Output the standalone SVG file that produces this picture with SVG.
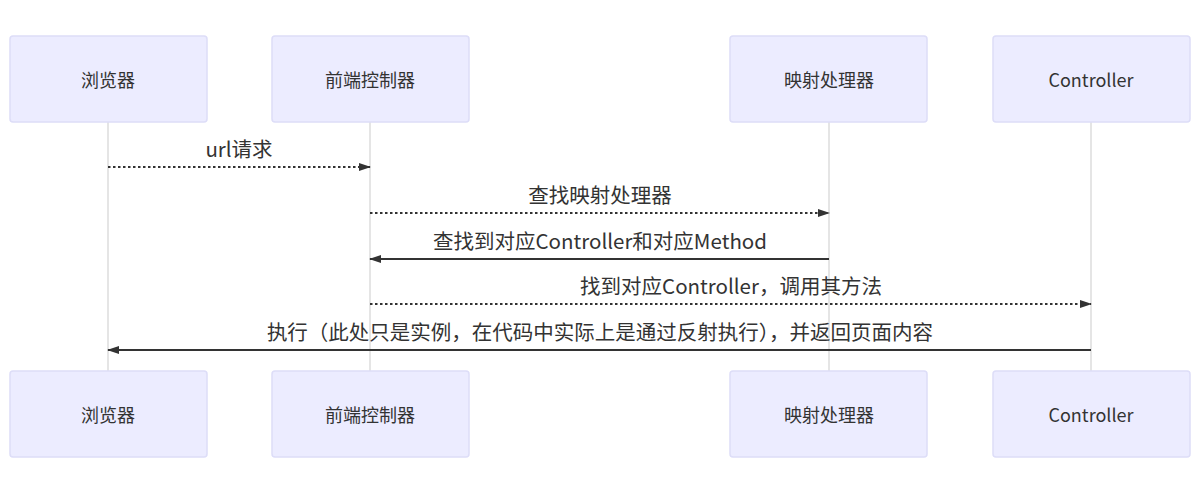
<svg xmlns="http://www.w3.org/2000/svg" width="1200" height="484" viewBox="0 0 1200 484">
<style>
.box{fill:#ECECFF;stroke:#DDDDF8;stroke-width:1.5}
.t{font-family:"Noto Sans CJK SC","Liberation Sans",sans-serif;font-size:18px;fill:#333;text-anchor:middle;dominant-baseline:central}
.m{font-family:"Noto Sans CJK SC","Liberation Sans",sans-serif;font-size:20.5px;fill:#333;text-anchor:middle}
.life{stroke:#ddd;stroke-width:1.5}
.solid{stroke:#333;stroke-width:2;fill:none}
.dot{stroke:#333;stroke-width:2;fill:none;stroke-dasharray:2.5 2.5}
</style>
<defs><marker id="a" markerWidth="12" markerHeight="10" refX="11" refY="5" orient="auto" markerUnits="userSpaceOnUse"><path d="M0,1 L12,5 L0,9 z" fill="#333"/></marker></defs>
<rect width="1200" height="484" fill="#fff"/>
<g id="lifelines">
<line class="life" x1="108" y1="122" x2="108" y2="371"/>
<line class="life" x1="370" y1="122" x2="370" y2="371"/>
<line class="life" x1="829" y1="122" x2="829" y2="371"/>
<line class="life" x1="1091" y1="122" x2="1091" y2="371"/>
</g>
<g id="n1"><rect class="box" x="10" y="36" width="197" height="86" rx="3"/><text class="t" x="108" y="79">浏览器</text></g>
<g id="n2"><rect class="box" x="272" y="36" width="197" height="86" rx="3"/><text class="t" x="370" y="79">前端控制器</text></g>
<g id="n3"><rect class="box" x="730" y="36" width="197" height="86" rx="3"/><text class="t" x="829" y="79">映射处理器</text></g>
<g id="n4"><rect class="box" x="993" y="36" width="197" height="86" rx="3"/><text class="t" x="1091" y="79">Controller</text></g>
<g id="n1b"><rect class="box" x="10" y="371" width="197" height="86" rx="3"/><text class="t" x="108" y="414">浏览器</text></g>
<g id="n2b"><rect class="box" x="272" y="371" width="197" height="86" rx="3"/><text class="t" x="370" y="414">前端控制器</text></g>
<g id="n3b"><rect class="box" x="730" y="371" width="197" height="86" rx="3"/><text class="t" x="829" y="414">映射处理器</text></g>
<g id="n4b"><rect class="box" x="993" y="371" width="197" height="86" rx="3"/><text class="t" x="1091" y="414">Controller</text></g>
<g id="connectors">
<line class="dot" x1="108" y1="167" x2="370" y2="167" marker-end="url(#a)"/>
<text class="m" x="239" y="157">url请求</text>
<line class="dot" x1="370" y1="213" x2="829" y2="213" marker-end="url(#a)"/>
<text class="m" x="600" y="203">查找映射处理器</text>
<line class="solid" x1="829" y1="259" x2="370" y2="259" marker-end="url(#a)"/>
<text class="m" x="600" y="249">查找到对应Controller和对应Method</text>
<line class="dot" x1="370" y1="304" x2="1091" y2="304" marker-end="url(#a)"/>
<text class="m" x="731" y="294">找到对应Controller，调用其方法</text>
<line class="solid" x1="1091" y1="350" x2="108" y2="350" marker-end="url(#a)"/>
<text class="m" x="600" y="340">执行（此处只是实例，在代码中实际上是通过反射执行），并返回页面内容</text>
</g>
</svg>
